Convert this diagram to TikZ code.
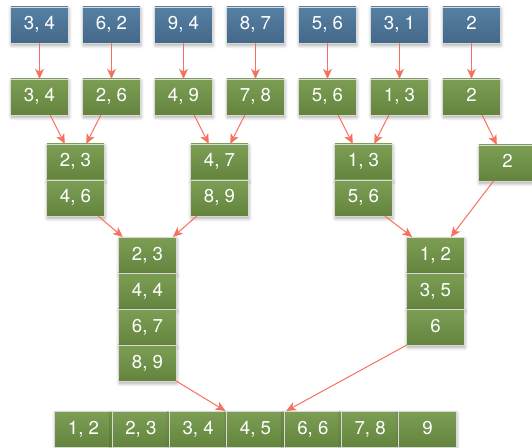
\documentclass[tikz,border=0pt]{standalone}
\usepackage{fontspec}
\setmainfont{TeX Gyre Heros}
\usepackage{tikz}
\usetikzlibrary{positioning,arrows.meta,shadows.blur}

\definecolor{bluetop}{RGB}{86,128,163}
\definecolor{bluebot}{RGB}{68,104,137}
\definecolor{greentop}{RGB}{124,158,84}
\definecolor{greenbot}{RGB}{100,132,62}
\definecolor{arrowred}{RGB}{246,112,96}

\begin{document}
\begin{tikzpicture}[
    x=0.75pt, y=0.75pt,
    cellnode/.style={rectangle, draw=white!85!black, line width=0.6pt, minimum width=43pt, minimum height=27pt, inner sep=0pt, outer sep=0pt, text height=10pt, text depth=2.5pt, text=white, font=\fontsize{14}{16}\selectfont, blur shadow={shadow xshift=0.5pt, shadow yshift=-1.8pt, shadow blur radius=2.5pt, shadow opacity=35}},
    bluenode/.style={cellnode, top color=bluetop, bottom color=bluebot},
    greennode/.style={cellnode, top color=greentop, bottom color=greenbot},
    mergeline/.style={->, >={Stealth[length=7.5pt, width=6.5pt, inset=2pt]}, draw=arrowred, line width=0.75pt},
    node distance=0pt
    ]
        \useasboundingbox (0,0) rectangle (532,447);

        %Nodes: input pairs
        \node[bluenode] (t1) at (39.5,422) {3, 4};
        \node[bluenode] (t2) [right=11pt of t1] {6, 2};
        \node[bluenode] (t3) [right=11pt of t2] {9, 4};
        \node[bluenode] (t4) [right=11pt of t3] {8, 7};
        \node[bluenode] (t5) [right=11pt of t4] {5, 6};
        \node[bluenode] (t6) [right=11pt of t5] {3, 1};
        \node[bluenode] (t7) [right=11pt of t6] {2};

        %Nodes: sorted pairs
        \node[greennode] (s1) [below=27pt of t1] {3, 4};
        \node[greennode] (s2) [below=27pt of t2] {2, 6};
        \node[greennode] (s3) [below=27pt of t3] {4, 9};
        \node[greennode] (s4) [below=27pt of t4] {7, 8};
        \node[greennode] (s5) [below=27pt of t5] {5, 6};
        \node[greennode] (s6) [below=27pt of t6] {1, 3};
        \node[greennode] (s7) [below=27pt of t7] {2};

        %Nodes: first merge
        \node[greennode, anchor=north] (p1a) at (75.5,303) {2, 3};
        \node[greennode] (p1b) [below=of p1a] {4, 6};
        \node[greennode, anchor=north] (p2a) at (219.5,303) {4, 7};
        \node[greennode] (p2b) [below=of p2a] {8, 9};
        \node[greennode, anchor=north] (p3a) at (363.5,303) {1, 3};
        \node[greennode] (p3b) [below=of p3a] {5, 6};
        \node[greennode, anchor=north] (p4) at (507.5,302) {2};

        %Nodes: second merge
        \node[greennode, anchor=north] (q1a) at (147.5,210) {2, 3};
        \node[greennode] (q1b) [below=of q1a] {4, 4};
        \node[greennode] (q1c) [below=of q1b] {6, 7};
        \node[greennode] (q1d) [below=of q1c] {8, 9};
        \node[greennode, anchor=north] (q2a) at (435.5,210) {1, 2};
        \node[greennode] (q2b) [below=of q2a] {3, 5};
        \node[greennode] (q2c) [below=of q2b] {6};

        %Nodes: result
        \node[greennode, anchor=north] (r1) at (83.5,36) {1, 2};
        \node[greennode] (r2) [right=of r1] {2, 3};
        \node[greennode] (r3) [right=of r2] {3, 4};
        \node[greennode] (r4) [right=of r3] {4, 5};
        \node[greennode] (r5) [right=of r4] {6, 6};
        \node[greennode] (r6) [right=of r5] {7, 8};
        \node[greennode] (r7) [right=of r6] {9};

        %Lines
        \foreach \i in {1,...,7}
            \draw[mergeline] (t\i) -- (s\i);

        \draw[mergeline] ([xshift=8pt]s1.south) -- ([xshift=-8pt]p1a.north);
        \draw[mergeline] ([xshift=-8pt]s2.south) -- ([xshift=8pt]p1a.north);
        \draw[mergeline] ([xshift=8pt]s3.south) -- ([xshift=-8pt]p2a.north);
        \draw[mergeline] ([xshift=-8pt]s4.south) -- ([xshift=8pt]p2a.north);
        \draw[mergeline] ([xshift=8pt]s5.south) -- ([xshift=-8pt]p3a.north);
        \draw[mergeline] ([xshift=-8pt]s6.south) -- ([xshift=8pt]p3a.north);
        \draw[mergeline] ([xshift=8pt]s7.south) -- ([xshift=-8pt]p4.north);

        \draw[mergeline] ([xshift=17pt]p1b.south) -- ([xshift=-18.5pt]q1a.north);
        \draw[mergeline] ([xshift=-17pt]p2b.south) -- ([xshift=19pt]q1a.north);
        \draw[mergeline] ([xshift=16pt]p3b.south) -- ([xshift=-17.5pt]q2a.north);
        \draw[mergeline] ([xshift=-10.5pt]p4.south) -- ([xshift=11.5pt]q2a.north);

        \draw[mergeline] (q1d.south east) -- ([xshift=-1pt]r4.north west);
        \draw[mergeline] (q2c.south west) -- ([xshift=1.5pt]r5.north west);
    \end{tikzpicture}
\end{document}
